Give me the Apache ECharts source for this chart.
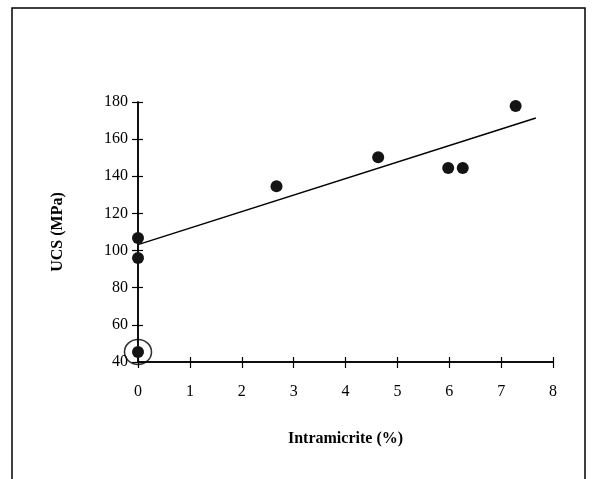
<!DOCTYPE html>
<html>
<head>
<meta charset="utf-8">
<script src="https://cdn.jsdelivr.net/npm/echarts@6/dist/echarts.min.js"></script>
<style>
  html, body { margin: 0; padding: 0; background: #fff; }
  #chart { width: 597px; height: 479px; }
</style>
</head>
<body>
<div id="chart"></div>
<script>
    // intramicrite content (%) vs uniaxial compressive strength (MPa)
    const intramicrite = [0, 0, 0, 2.67, 4.63, 5.98, 6.26, 7.28]
    const ucs = [106.8, 96, 45.4, 134.6, 150.2, 144.5, 144.5, 177.9]
    // circled outlier
    const outlierX = [0]
    const outlierY = [45.4]
    // fitted line end points
    const fitX = [0, 7.67]
    const fitY = [103.2, 171.4]

    const xTicks = [0, 8, 1]
    const yTicks = [40, 180, 20]

    const serif = "'Liberation Serif', 'DejaVu Serif', serif"

    let chart = echarts.init(document.getElementById("chart"))

    let points = intramicrite.map((x, i) => [x, ucs[i]])
    let outliers = outlierX.map((x, i) => [x, outlierY[i]])
    let fit = fitX.map((x, i) => [x, fitY[i]])

    let baseX = {
        type: 'value',
        min: xTicks[0], max: xTicks[1], interval: xTicks[2],
        axisLine: { show: true, onZero: false, lineStyle: { color: '#000', width: 1.5 } },
        splitLine: { show: false }
    }
    let baseY = {
        type: 'value',
        min: yTicks[0], max: yTicks[1], interval: yTicks[2],
        axisLine: { show: true, onZero: false, lineStyle: { color: '#000', width: 1.5 } },
        splitLine: { show: false }
    }

    let option = {
        animation: false,
        backgroundColor: '#fff',
        grid: { left: 138, right: 44, top: 102, bottom: 117 },
        graphic: [{
            type: 'rect',
            shape: { x: 12, y: 8, width: 573, height: 490 },
            style: { fill: 'none', stroke: '#000', lineWidth: 1.5 },
            silent: true
        }],
        xAxis: [
            Object.assign({}, baseX, {
                position: 'bottom',
                name: 'Intramicrite (%)',
                nameLocation: 'middle',
                nameGap: 69,
                nameTextStyle: { fontFamily: serif, fontSize: 16, fontWeight: 'bold', color: '#000' },
                axisTick: { show: true, length: 6, lineStyle: { color: '#000', width: 1.2 } },
                axisLabel: { fontFamily: serif, fontSize: 16, color: '#000', margin: 22 }
            }),
            Object.assign({}, baseX, {
                position: 'bottom',
                axisTick: { show: true, inside: true, length: 5, lineStyle: { color: '#000', width: 1.2 } },
                axisLabel: { show: false }
            })
        ],
        yAxis: [
            Object.assign({}, baseY, {
                position: 'left',
                name: 'UCS (MPa)',
                nameLocation: 'middle',
                nameGap: 72,
                nameTextStyle: { fontFamily: serif, fontSize: 16, fontWeight: 'bold', color: '#000' },
                axisTick: { show: true, length: 6, lineStyle: { color: '#000', width: 1.2 } },
                axisLabel: { fontFamily: serif, fontSize: 16, color: '#000', margin: 10 }
            }),
            Object.assign({}, baseY, {
                position: 'left',
                axisTick: { show: true, inside: true, length: 5, lineStyle: { color: '#000', width: 1.2 } },
                axisLabel: { show: false }
            })
        ],
        series: [
            {
                type: 'line',
                data: fit,
                symbol: 'none',
                lineStyle: { color: '#000', width: 1.5 },
                z: 3
            },
            {
                type: 'scatter',
                data: points,
                symbol: 'circle',
                symbolSize: 12,
                itemStyle: { color: '#141414', opacity: 1 },
                z: 4
            },
            {
                type: 'scatter',
                data: outliers,
                symbol: 'circle',
                symbolSize: [27, 25],
                itemStyle: { color: 'rgba(0,0,0,0)', borderColor: '#000', borderWidth: 1.5 },
                z: 4
            }
        ]
    }
    chart.setOption(option)
</script>
</body>
</html>
